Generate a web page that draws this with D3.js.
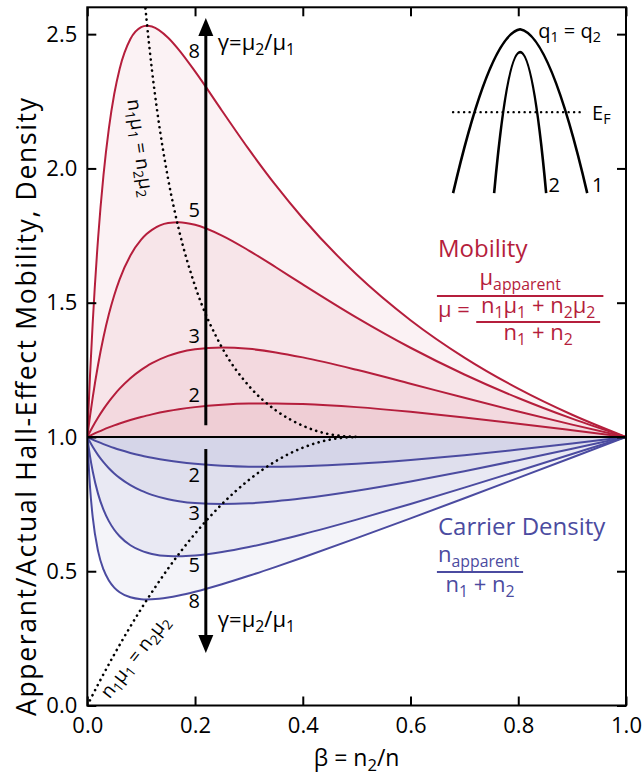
<!DOCTYPE html>
<html>
<head>
<meta charset="utf-8">
<script src="https://cdn.jsdelivr.net/npm/d3@7"></script>
<style>
  body { margin: 0; background: #fff; }
  svg { font-family: "Open Sans", "Noto Sans", sans-serif; }
</style>
</head>
<body>
<svg id="chart" width="644" height="776"></svg>
<script>
// beta = n2/n sample points
const beta = [0, 0.005, 0.01, 0.02, 0.03, 0.04, 0.05, 0.06, 0.08, 0.1, 0.11, 0.12, 0.15, 0.17, 0.2, 0.25, 0.3, 0.35, 0.4, 0.5, 0.6, 0.7, 0.8, 0.9, 1];

// apparent / actual mobility, one series per gamma
const mob8 = [1, 1.2276, 1.4237, 1.7390, 1.9739, 2.1484, 2.2771, 2.3706, 2.4819, 2.5260, 2.5312, 2.5284, 2.4866, 2.4416, 2.3611, 2.2149, 2.0708, 1.9366, 1.8144, 1.6049, 1.4349, 1.2956, 1.1800, 1.0828, 1];
const mob5 = [1, 1.0765, 1.1464, 1.2689, 1.3712, 1.4566, 1.5278, 1.5869, 1.6758, 1.7347, 1.7554, 1.7714, 1.7969, 1.7999, 1.7901, 1.7500, 1.6942, 1.6319, 1.5680, 1.4444, 1.3322, 1.2327, 1.1451, 1.0681, 1];
const mob3 = [1, 1.0195, 1.0381, 1.0725, 1.1036, 1.1317, 1.1570, 1.1798, 1.2188, 1.2500, 1.2631, 1.2747, 1.3018, 1.3143, 1.3265, 1.3333, 1.3281, 1.3149, 1.2963, 1.2500, 1.1983, 1.1458, 1.0947, 1.0459, 1];
const mob2 = [1, 1.0049, 1.0097, 1.0188, 1.0274, 1.0355, 1.0431, 1.0502, 1.0631, 1.0744, 1.0795, 1.0842, 1.0964, 1.1031, 1.1111, 1.1200, 1.1243, 1.1248, 1.1224, 1.1111, 1.0938, 1.0727, 1.0494, 1.0249, 1];

// apparent / actual carrier density
const den8 = [1, 0.8146, 0.7024, 0.5750, 0.5066, 0.4655, 0.4392, 0.4218, 0.4029, 0.3959, 0.3951, 0.3955, 0.4022, 0.4096, 0.4235, 0.4515, 0.4829, 0.5164, 0.5511, 0.6231, 0.6969, 0.7718, 0.8475, 0.9236, 1];
const den5 = [1, 0.9289, 0.8723, 0.7881, 0.7293, 0.6865, 0.6545, 0.6302, 0.5967, 0.5765, 0.5697, 0.5645, 0.5565, 0.5556, 0.5586, 0.5714, 0.5902, 0.6128, 0.6377, 0.6923, 0.7506, 0.8112, 0.8733, 0.9363, 1];
const den3 = [1, 0.9809, 0.9633, 0.9324, 0.9061, 0.8836, 0.8643, 0.8476, 0.8205, 0.8000, 0.7917, 0.7845, 0.7682, 0.7609, 0.7538, 0.7500, 0.7529, 0.7605, 0.7714, 0.8000, 0.8345, 0.8727, 0.9135, 0.9561, 1];
const den2 = [1, 0.9951, 0.9904, 0.9815, 0.9733, 0.9657, 0.9587, 0.9522, 0.9406, 0.9308, 0.9264, 0.9224, 0.9121, 0.9066, 0.9000, 0.8929, 0.8895, 0.8890, 0.8909, 0.9000, 0.9143, 0.9323, 0.9529, 0.9757, 1];

const gammas = ["8", "5", "3", "2"];

// n1mu1 = n2mu2 loci (dotted)
const betaUpper = [0.105, 0.11, 0.12, 0.13, 0.15, 0.17, 0.2, 0.25, 0.3, 0.35, 0.4, 0.45, 0.5];
const dotUpper = [2.660, 2.554, 2.367, 2.210, 1.961, 1.772, 1.5625, 1.333, 1.190, 1.099, 1.042, 1.010, 1.000];
const betaLower = [0, 0.02, 0.05, 0.1, 0.15, 0.2, 0.25, 0.3, 0.35, 0.4, 0.45, 0.5];
const dotLower = [0, 0.0784, 0.19, 0.36, 0.51, 0.64, 0.75, 0.84, 0.91, 0.96, 0.99, 1];

const xTicks = [0, 0.2, 0.4, 0.6, 0.8, 1.0];
const yTicks = [0, 0.5, 1.0, 1.5, 2.0, 2.5];

const red = "#b51e3c";
const blue = "#4b4ba0";

const svg = d3.select("#chart");
const x = d3.scaleLinear().domain([0, 1]).range([87.3, 626]);
const y = d3.scaleLinear().domain([0, 2.6]).range([705.5, 7.3]);

svg.append("defs").append("clipPath").attr("id", "plot")
  .append("rect")
  .attr("x", x(0)).attr("y", y(2.6))
  .attr("width", x(1) - x(0)).attr("height", y(0) - y(2.6));

const plot = svg.append("g").attr("clip-path", "url(#plot)");

const toPts = vals => vals.map((v, i) => [beta[i], v]);
const area = d3.area().x(d => x(d[0])).y0(y(1)).y1(d => y(d[1])).curve(d3.curveMonotoneX);
const line = d3.line().x(d => x(d[0])).y(d => y(d[1])).curve(d3.curveMonotoneX);

const mobSeries = [mob8, mob5, mob3, mob2];
const denSeries = [den8, den5, den3, den2];

// shaded bands
mobSeries.forEach(s => {
  plot.append("path").attr("d", area(toPts(s))).attr("fill", red).attr("fill-opacity", 0.06);
});
denSeries.forEach(s => {
  plot.append("path").attr("d", area(toPts(s))).attr("fill", blue).attr("fill-opacity", 0.06);
});

// curves
mobSeries.forEach(s => {
  plot.append("path").attr("d", line(toPts(s))).attr("fill", "none").attr("stroke", red).attr("stroke-width", 2);
});
denSeries.forEach(s => {
  plot.append("path").attr("d", line(toPts(s))).attr("fill", "none").attr("stroke", blue).attr("stroke-width", 2);
});

// dotted loci
const dotLine = d3.line().x(d => x(d[0])).y(d => y(d[1])).curve(d3.curveMonotoneX);
[[betaUpper, dotUpper], [betaLower, dotLower]].forEach(([b, v]) => {
  plot.append("path")
    .attr("d", dotLine(b.map((bb, i) => [bb, v[i]])))
    .attr("fill", "none").attr("stroke", "#000")
    .attr("stroke-width", 2.6).attr("stroke-linecap", "round")
    .attr("stroke-dasharray", "0.1,5.6");
});

// reference line at 1.0
svg.append("line")
  .attr("x1", x(0)).attr("x2", x(1)).attr("y1", y(1)).attr("y2", y(1))
  .attr("stroke", "#000").attr("stroke-width", 2);

// axes (ticks inward)
const axisStyle = g => {
  g.select(".domain").remove();
  g.selectAll(".tick line").attr("stroke", "#000").attr("stroke-width", 2);
  g.selectAll("text").attr("font-size", 22).attr("fill", "#000").attr("font-family", "Open Sans");
};
svg.append("g").attr("transform", `translate(0,${y(0)})`)
  .call(d3.axisBottom(x).tickValues(xTicks).tickFormat(d3.format(".1f")).tickSize(-9).tickPadding(12))
  .call(axisStyle);
svg.append("g").attr("transform", `translate(0,${y(2.6)})`)
  .call(d3.axisTop(x).tickValues(xTicks).tickFormat("").tickSize(-9))
  .call(axisStyle);
svg.append("g").attr("transform", `translate(${x(0)},0)`)
  .call(d3.axisLeft(y).tickValues(yTicks).tickFormat(d3.format(".1f")).tickSize(-9).tickPadding(10))
  .call(axisStyle);
svg.append("g").attr("transform", `translate(${x(1)},0)`)
  .call(d3.axisRight(y).tickValues(yTicks).tickFormat("").tickSize(-9))
  .call(axisStyle);

svg.append("rect")
  .attr("x", x(0)).attr("y", y(2.6))
  .attr("width", x(1) - x(0)).attr("height", y(0) - y(2.6))
  .attr("fill", "none").attr("stroke", "#000").attr("stroke-width", 2);

// text with subscripts
function rich(g, px, py, parts, size, anchor, color) {
  const t = g.append("text").attr("x", px).attr("y", py)
    .attr("font-size", size).attr("text-anchor", anchor || "start").attr("fill", color || "#000");
  let shift = 0;
  parts.forEach(p => {
    const sub = typeof p !== "string";
    const target = sub ? size * 0.22 : 0;
    t.append("tspan").attr("dy", target - shift)
      .attr("font-size", sub ? size * 0.72 : size)
      .text(sub ? p.sub : p);
    shift = target;
  });
  return t;
}

// axis titles
svg.append("text")
  .attr("transform", "translate(36,407) rotate(-90)")
  .attr("text-anchor", "middle").attr("font-size", 26.5)
  .attr("textLength", 618).attr("lengthAdjust", "spacing")
  .text("Apperant/Actual Hall-Effect Mobility, Density");
rich(svg, (x(0) + x(1)) / 2, 766, ["β = n", { sub: "2" }, "/n"], 23, "middle");

// gamma arrows
const ax = x(0.22);
svg.append("line").attr("x1", ax).attr("x2", ax).attr("y1", y(1.044)).attr("y2", y(2.5))
  .attr("stroke", "#000").attr("stroke-width", 3);
svg.append("path")
  .attr("d", `M${ax},${y(2.56)}L${ax - 7.5},${y(2.56) + 18}L${ax + 7.5},${y(2.56) + 18}Z`);
svg.append("line").attr("x1", ax).attr("x2", ax).attr("y1", y(0.955)).attr("y2", y(0.26))
  .attr("stroke", "#000").attr("stroke-width", 3);
svg.append("path")
  .attr("d", `M${ax},${y(0.1955)}L${ax - 7.5},${y(0.1955) - 18}L${ax + 7.5},${y(0.1955) - 18}Z`);

const gammaLabel = ["γ=μ", { sub: "2" }, "/μ", { sub: "1" }];
rich(svg, ax + 12, y(2.44), gammaLabel, 22);
rich(svg, ax + 12, y(0.292), gammaLabel, 22);

// gamma numbers next to arrows
const upperLabelY = [2.411, 1.819, 1.350, 1.130];
const lowerLabelY = [0.363, 0.497, 0.691, 0.832];
gammas.forEach((g, i) => {
  svg.append("text").attr("x", ax - 6).attr("y", y(upperLabelY[i]))
    .attr("text-anchor", "end").attr("font-size", 20).text(g);
  svg.append("text").attr("x", ax - 6).attr("y", y(lowerLabelY[i]))
    .attr("text-anchor", "end").attr("font-size", 20).text(g);
});

// dotted locus labels
const locus = ["n", { sub: "1" }, "μ", { sub: "1" }, " = n", { sub: "2" }, "μ", { sub: "2" }];
rich(svg.append("g").attr("transform", `translate(${x(0.098)},${y(2.076)}) rotate(82)`), 0, 6, locus, 19, "middle");
rich(svg.append("g").attr("transform", `translate(${x(0.0887)},${y(0.181)}) rotate(-52)`), 0, 6, locus, 19, "middle");

// mobility legend
rich(svg, x(0.651), y(1.670), ["Mobility"], 24, "start", red);
rich(svg, x(0.8035), y(1.566), ["μ", { sub: "apparent" }], 22, "middle", red);
svg.append("line").attr("x1", x(0.649)).attr("x2", x(0.958)).attr("y1", y(1.5245)).attr("y2", y(1.5245))
  .attr("stroke", red).attr("stroke-width", 2);
rich(svg, x(0.651), y(1.446), ["μ ="], 22, "start", red);
rich(svg, x(0.837), y(1.461), ["n", { sub: "1" }, "μ", { sub: "1" }, " + n", { sub: "2" }, "μ", { sub: "2" }], 22, "middle", red);
svg.append("line").attr("x1", x(0.722)).attr("x2", x(0.952)).attr("y1", y(1.428)).attr("y2", y(1.428))
  .attr("stroke", red).attr("stroke-width", 2);
rich(svg, x(0.837), y(1.361), ["n", { sub: "1" }, " + n", { sub: "2" }], 22, "middle", red);

// carrier density legend
rich(svg, x(0.651), y(0.635), ["Carrier Density"], 24, "start", blue);
rich(svg, x(0.651), y(0.534), ["n", { sub: "apparent" }], 22, "start", blue);
svg.append("line").attr("x1", x(0.649)).attr("x2", x(0.809)).attr("y1", y(0.497)).attr("y2", y(0.497))
  .attr("stroke", blue).attr("stroke-width", 2);
rich(svg, x(0.729), y(0.4226), ["n", { sub: "1" }, " + n", { sub: "2" }], 22, "middle", blue);

// band-structure inset
const inset = svg.append("g").attr("fill", "none").attr("stroke", "#000").attr("stroke-width", 2.6);
const pk = 0.8035, outerTop = 2.518, innerTop = 2.433, bandBottom = 1.908;
const outerHalf = 0.1245, innerHalf = 0.0483;
const outer = d3.path();
outer.moveTo(x(pk - outerHalf), y(bandBottom));
outer.quadraticCurveTo(x(pk - outerHalf * 0.45), y(outerTop - 0.019), x(pk), y(outerTop));
outer.quadraticCurveTo(x(pk + outerHalf * 0.45), y(outerTop - 0.019), x(pk + outerHalf), y(bandBottom));
inset.append("path").attr("d", outer.toString()).attr("stroke-linejoin", "round");
const inner = d3.path();
inner.moveTo(x(pk - innerHalf), y(bandBottom));
inner.quadraticCurveTo(x(pk), y(2 * innerTop - bandBottom), x(pk + innerHalf), y(bandBottom));
inset.append("path").attr("d", inner.toString());
inset.append("line").attr("x1", x(0.679)).attr("x2", x(0.924)).attr("y1", y(2.2096)).attr("y2", y(2.2096))
  .attr("stroke-width", 2.4).attr("stroke-linecap", "round").attr("stroke-dasharray", "0.1,5.4");

rich(svg, x(0.837), y(2.487), ["q", { sub: "1" }, " = q", { sub: "2" }], 20);
rich(svg, x(0.937), y(2.18), ["E", { sub: "F" }], 20);
rich(svg, x(0.856), y(1.912), ["2"], 20);
rich(svg, x(0.937), y(1.912), ["1"], 20);
</script>
</body>
</html>
